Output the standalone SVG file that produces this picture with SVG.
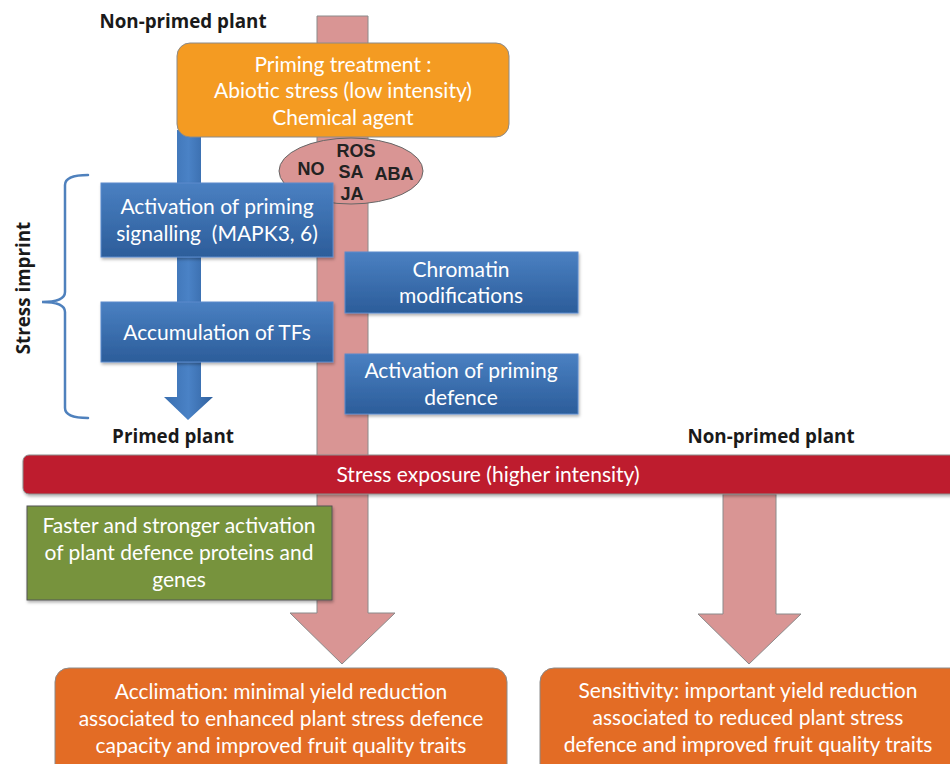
<svg xmlns="http://www.w3.org/2000/svg" width="950" height="764" viewBox="0 0 950 764">
<defs>
<linearGradient id="blueG" x1="0" y1="0" x2="0" y2="1">
<stop offset="0" stop-color="#4A80C2"/>
<stop offset="1" stop-color="#2C5D9A"/>
</linearGradient>
<linearGradient id="shaftG" x1="0" y1="0" x2="1" y2="0">
<stop offset="0" stop-color="#3A6FB0"/>
<stop offset="0.5" stop-color="#4A82C6"/>
<stop offset="1" stop-color="#30619F"/>
</linearGradient>
<filter id="sh" x="-5%" y="-5%" width="110%" height="120%">
<feDropShadow dx="1" dy="2" stdDeviation="1.5" flood-color="#000" flood-opacity="0.3"/>
</filter>
<style>
.t{font-family:Lato,"Open Sans",sans-serif;font-size:21px;fill:#fff;text-anchor:middle}
.b{font-family:"Open Sans","Noto Sans",sans-serif;font-weight:bold;font-size:18.8px;fill:#1a1a1a;text-anchor:middle}
.e{font-family:"Liberation Sans",Arial,sans-serif;font-weight:bold;font-size:18px;fill:#222;text-anchor:middle}
.pink{fill:#D99594;stroke:#8a8a8a;stroke-width:1}
.blue{fill:url(#blueG);stroke:#5B8ACB;stroke-width:1;filter:url(#sh)}
</style>
</defs>

<g id="connectors">
<path id="main-arrow" class="pink" d="M317,16 H368 V613 H395 L342,664 L290,613 H317 Z"/>
<path id="right-arrow" class="pink" d="M723,494 H776 V614 H801 L749,664 L698,614 H723 Z"/>
<path id="blue-arrow" fill="url(#shaftG)" d="M177,130 H201 V397 H213 L188,420 L164,397 H177 Z"/>
<path id="bracket" fill="none" stroke="#4F81BD" stroke-width="2.5" stroke-linecap="round" d="M88,175 Q65,175 65,185 V292 Q65,302 42,302 Q65,302 65,312 V408 Q65,418 88,418"/>
</g>

<g id="label-nonprimed-top"><text class="b" x="183" y="28">Non-primed plant</text></g>
<g id="label-primed"><text class="b" x="173" y="443">Primed plant</text></g>
<g id="label-nonprimed-right"><text class="b" x="771" y="443">Non-primed plant</text></g>
<g id="label-stress-imprint"><text class="b" transform="translate(30,288) rotate(-90)">Stress imprint</text></g>

<g id="priming-treatment">
<rect x="177" y="43" width="332" height="94" rx="13" fill="#F49B22" stroke="#8a8a8a" stroke-width="1"/>
<text class="t" x="343" y="72">Priming treatment :</text>
<text class="t" x="343" y="98">Abiotic stress (low intensity)</text>
<text class="t" x="343" y="125">Chemical agent</text>
</g>

<g id="signals">
<ellipse cx="351" cy="171" rx="72" ry="33" fill="#D99594" stroke="#666" stroke-width="1"/>
<text class="e" x="356" y="157">ROS</text>
<text class="e" x="311" y="175">NO</text>
<text class="e" x="351" y="178">SA</text>
<text class="e" x="394" y="180">ABA</text>
<text class="e" x="352" y="200">JA</text>
</g>

<g id="activation-signalling">
<rect class="blue" x="101" y="183" width="232" height="74"/>
<text class="t" x="217" y="214">Activation of priming</text>
<text class="t" x="217" y="241" xml:space="preserve">signalling  (MAPK3, 6)</text>
</g>

<g id="accumulation-tfs">
<rect class="blue" x="101" y="302" width="232" height="60"/>
<text class="t" x="217" y="340">Accumulation of TFs</text>
</g>

<g id="chromatin">
<rect class="blue" x="345" y="252" width="233" height="61"/>
<text class="t" x="461" y="277">Chromatin</text>
<text class="t" x="461" y="303">modifications</text>
</g>

<g id="activation-defence">
<rect class="blue" x="345" y="354" width="233" height="60"/>
<text class="t" x="461" y="378">Activation of priming</text>
<text class="t" x="461" y="405">defence</text>
</g>

<g id="stress-exposure">
<rect x="23" y="455" width="940" height="39" rx="6" fill="#BE1E2D" stroke="#8a8a8a" stroke-width="1" filter="url(#sh)"/>
<text class="t" x="488" y="482">Stress exposure (higher intensity)</text>
</g>

<g id="faster-activation">
<rect x="27" y="506" width="305" height="94" fill="#77933C" stroke="#555" stroke-width="1" filter="url(#sh)"/>
<text class="t" x="179" y="533">Faster and stronger activation</text>
<text class="t" x="179" y="560">of plant defence proteins and</text>
<text class="t" x="179" y="587">genes</text>
</g>

<g id="acclimation">
<rect x="55" y="668" width="452" height="120" rx="14" fill="#E36C25" stroke="#8a8a8a" stroke-width="1"/>
<text class="t" x="281" y="699">Acclimation: minimal yield reduction</text>
<text class="t" x="281" y="726">associated to enhanced plant stress defence</text>
<text class="t" x="281" y="753">capacity and improved fruit quality traits</text>
</g>

<g id="sensitivity">
<rect x="540" y="668" width="430" height="120" rx="14" fill="#E36C25" stroke="#8a8a8a" stroke-width="1"/>
<text class="t" x="748" y="698">Sensitivity: important yield reduction</text>
<text class="t" x="748" y="725">associated to reduced plant stress</text>
<text class="t" x="748" y="752">defence and improved fruit quality traits</text>
</g>
</svg>
